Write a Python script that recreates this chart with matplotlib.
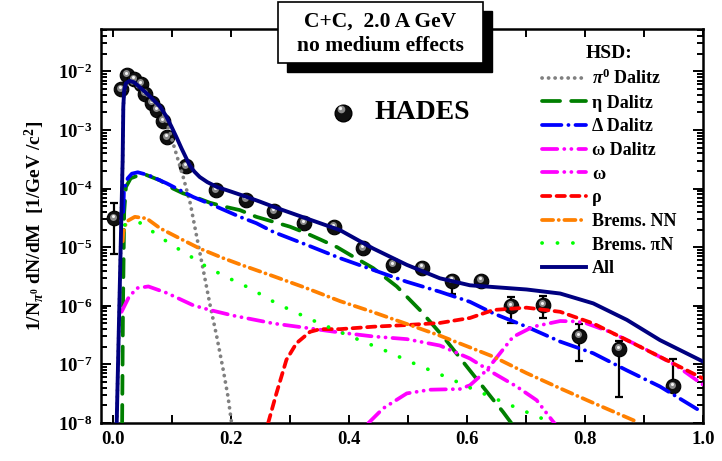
import matplotlib
matplotlib.use('Agg')
import numpy as np
import matplotlib.pyplot as plt
from matplotlib.lines import Line2D
from matplotlib.patches import Rectangle
from matplotlib import transforms, ticker

plt.rcParams['font.family'] = ['Liberation Serif', 'DejaVu Serif']
plt.rcParams['font.weight'] = 'bold'
plt.rcParams['mathtext.fontset'] = 'custom'
plt.rcParams['mathtext.rm'] = 'Liberation Serif:bold'
plt.rcParams['mathtext.bf'] = 'Liberation Serif:bold'
plt.rcParams['mathtext.it'] = 'Liberation Serif:bold:italic'
plt.rcParams['lines.scale_dashes'] = False

# HADES dielectron data: mass [GeV/c^2], yield, error band (low, high)
hades_m = [0.002, 0.013, 0.024, 0.036, 0.047, 0.054, 0.066, 0.074, 0.084, 0.092,
           0.124, 0.174, 0.225, 0.273, 0.324, 0.375, 0.423, 0.474, 0.524, 0.575,
           0.623, 0.674, 0.728, 0.789, 0.858, 0.949]
hades_y = [3.1e-5, 4.95e-3, 8.7e-3, 7.3e-3, 6.1e-3, 4.1e-3, 2.9e-3, 2.2e-3, 1.43e-3, 7.5e-4,
           2.4e-4, 9.3e-5, 6.5e-5, 4.1e-5, 2.6e-5, 2.2e-5, 9.6e-6, 5.0e-6, 4.5e-6, 2.7e-6,
           2.7e-6, 1.0e-6, 1.03e-6, 3.05e-7, 1.83e-7, 4.2e-8]
hades_lo = [7.6e-6, None, None, None, None, None, None, None, None, None,
            None, None, None, None, None, None, None, None, None, 1.6e-6,
            None, 5.1e-7, 6.2e-7, 1.15e-7, 2.8e-8, 3.5e-8]
hades_hi = [5.6e-5, None, None, None, None, None, None, None, None, None,
            None, None, None, None, None, None, None, None, None, 3.2e-6,
            None, 1.43e-6, 1.48e-6, 4.9e-7, 2.5e-7, 1.23e-7]

# HSD contributions
pi0_m = [0.0063, 0.0164, 0.0175, 0.019, 0.022, 0.028, 0.036, 0.051, 0.065, 0.080, 0.090,
         0.102, 0.119, 0.131, 0.142, 0.153, 0.164, 0.176, 0.187, 0.195, 0.201]
pi0_y = [1e-8, 3.0e-4, 2.4e-3, 4.6e-3, 6.0e-3, 6.6e-3, 6.2e-3, 4.6e-3, 3.3e-3, 2.3e-3, 1.5e-3,
         5.9e-4, 1.58e-4, 5.6e-5, 1.5e-5, 4.1e-6, 1.1e-6, 2.95e-7, 7.9e-8, 2.8e-8, 1e-8]

eta_m = [0.0155, 0.017, 0.019, 0.022, 0.030, 0.051, 0.080, 0.102, 0.119, 0.140, 0.164, 0.190,
         0.215, 0.243, 0.270, 0.300, 0.325, 0.351, 0.380, 0.402, 0.441, 0.481, 0.520, 0.560,
         0.600, 0.645, 0.661, 0.675]
eta_y = [1e-8, 1e-6, 4e-5, 1.07e-4, 1.5e-4, 1.8e-4, 1.38e-4, 1.0e-4, 8.3e-5, 7.1e-5, 5.75e-5, 4.9e-5,
         4.3e-5, 3.3e-5, 2.75e-5, 2.24e-5, 1.78e-5, 1.36e-5, 1.0e-5, 7.4e-6, 4.4e-6, 2.14e-6, 8.5e-7, 2.95e-7,
         9.1e-8, 2.45e-8, 1.55e-8, 1e-8]

delta_m = [0.0175, 0.0186, 0.025, 0.032, 0.042, 0.060, 0.091, 0.136, 0.176, 0.215, 0.243, 0.272,
           0.328, 0.385, 0.441, 0.498, 0.554, 0.605, 0.645, 0.701, 0.758, 0.814, 0.871, 0.927, 1.0]
delta_y = [4e-5, 9.5e-5, 1.5e-4, 1.8e-4, 1.9e-4, 1.7e-4, 1.23e-4, 7.2e-5, 4.9e-5, 3.3e-5, 2.57e-5, 1.82e-5,
           1.1e-5, 6.5e-6, 4.1e-6, 2.57e-6, 1.74e-6, 1.17e-6, 7.4e-7, 4.4e-7, 2.45e-7, 1.55e-7, 7.9e-8, 4.2e-8, 1.5e-8]

omdal_m = [0.0145, 0.026, 0.040, 0.060, 0.091, 0.136, 0.164, 0.204, 0.272, 0.328, 0.385, 0.441,
           0.498, 0.554, 0.605, 0.645, 0.684, 0.718, 0.744, 0.752]
omdal_y = [7.9e-7, 1.35e-6, 2.0e-6, 2.14e-6, 1.66e-6, 1.02e-6, 8.5e-7, 6.8e-7, 5.0e-7, 4.2e-7, 3.5e-7, 3.0e-7,
           2.7e-7, 2.1e-7, 1.26e-7, 7.1e-8, 4.2e-8, 2.45e-8, 1.12e-8, 8.9e-9]

omega_m = [0.433, 0.458, 0.498, 0.537, 0.588, 0.605, 0.633, 0.656, 0.678, 0.712, 0.758, 0.786,
           0.803, 0.842, 0.899, 0.955, 1.0]
omega_y = [1e-8, 1.78e-8, 3.2e-8, 3.7e-8, 3.8e-8, 4.4e-8, 7.9e-8, 1.55e-7, 2.95e-7, 4.4e-7, 5.5e-7, 5.4e-7,
           5.0e-7, 3.6e-7, 1.9e-7, 9.5e-8, 4.5e-8]

rho_m = [0.263, 0.277, 0.294, 0.311, 0.334, 0.351, 0.385, 0.441, 0.498, 0.554, 0.605, 0.645,
         0.701, 0.758, 0.814, 0.871, 0.927, 1.0]
rho_y = [1e-8, 3.2e-8, 1.2e-7, 2.3e-7, 3.6e-7, 4.0e-7, 4.0e-7, 4.4e-7, 4.7e-7, 5.1e-7, 6.2e-7, 8.5e-7,
         9.3e-7, 7.9e-7, 5.0e-7, 2.6e-7, 1.35e-7, 5.75e-8]

bnn_m = [0.0165, 0.0175, 0.023, 0.037, 0.057, 0.080, 0.114, 0.147, 0.187, 0.215, 0.272, 0.328,
         0.385, 0.441, 0.498, 0.554, 0.605, 0.645, 0.701, 0.758, 0.814, 0.888]
bnn_y = [1.26e-5, 1.8e-5, 2.75e-5, 3.3e-5, 3.1e-5, 2.1e-5, 1.4e-5, 9.5e-6, 6.5e-6, 5.1e-6, 3.2e-6, 2.0e-6,
         1.2e-6, 7.8e-7, 4.9e-7, 3.1e-7, 1.95e-7, 1.35e-7, 7.1e-8, 3.9e-8, 2.2e-8, 1.05e-8]

bpin_m = [0.020, 0.046, 0.071, 0.099, 0.128, 0.147, 0.175, 0.203, 0.232, 0.277, 0.337, 0.396,
          0.458, 0.512, 0.571, 0.600, 0.656, 0.712, 0.744]
bpin_y = [2.4e-5, 2.6e-5, 1.74e-5, 1.1e-5, 7.4e-6, 5.4e-6, 3.8e-6, 2.75e-6, 2.0e-6, 1.1e-6, 5.75e-7, 3.2e-7,
          1.78e-7, 1.02e-7, 5.75e-8, 4.2e-8, 2.4e-8, 1.38e-8, 1.02e-8]

all_m = [0.0063, 0.0164, 0.0175, 0.019, 0.022, 0.028, 0.036, 0.051, 0.065, 0.080, 0.090, 0.099,
         0.108, 0.116, 0.123, 0.130, 0.138, 0.147, 0.160, 0.176, 0.200, 0.227, 0.249, 0.272,
         0.328, 0.385, 0.441, 0.498, 0.554, 0.605, 0.645, 0.701, 0.758, 0.814, 0.871, 0.927, 1.0]
all_y = [1e-8, 3.1e-4, 2.5e-3, 4.8e-3, 6.3e-3, 6.9e-3, 6.5e-3, 4.8e-3, 3.55e-3, 2.5e-3, 1.74e-3, 1.15e-3,
         7.4e-4, 4.9e-4, 3.5e-4, 2.5e-4, 1.95e-4, 1.58e-4, 1.29e-4, 1.07e-4, 8.9e-5, 7.2e-5, 6.0e-5, 4.9e-5,
         3.1e-5, 1.95e-5, 9.5e-6, 5.0e-6, 2.95e-6, 2.24e-6, 2.09e-6, 1.9e-6, 1.62e-6, 1.1e-6, 5.75e-7, 2.6e-7, 1.12e-7]

x_ticks = [0.0, 0.2, 0.4, 0.6, 0.8, 1.0]
y_ticks = [1e-8, 1e-7, 1e-6, 1e-5, 1e-4, 1e-3, 1e-2]

curves = [
    (pi0_m, pi0_y, '#808080', (0, (0.1, 4.6)), r'$\pi^{0}$ Dalitz'),
    (eta_m, eta_y, '#007f00', (0, (13, 8)), 'η Dalitz'),
    (delta_m, delta_y, '#0000ff', (0, (14, 5, 0.1, 5)), 'Δ Dalitz'),
    (omdal_m, omdal_y, '#ff00ff', (0, (11, 5, 0.1, 5, 0.1, 5)), 'ω Dalitz'),
    (omega_m, omega_y, '#ff00ff', (0, (11, 5, 0.1, 5, 0.1, 5)), 'ω'),
    (rho_m, rho_y, '#ff0000', (0, (6, 4.5)), 'ρ'),
    (bnn_m, bnn_y, '#ff8000', (0, (8, 4, 0.1, 4)), 'Brems. NN'),
    (bpin_m, bpin_y, '#00ff00', (0, (0.1, 11)), 'Brems. πN'),
]

fig = plt.figure(figsize=(7.22, 4.61), dpi=100)
ax = fig.add_axes([101 / 722, 38 / 461, 602 / 722, 394 / 461])

# data points: dark spheres with a small highlight
ym = np.array(hades_y)
lo = np.array([v if v is not None else y for v, y in zip(hades_lo, hades_y)])
hi = np.array([v if v is not None else y for v, y in zip(hades_hi, hades_y)])
ax.errorbar(hades_m, ym, yerr=[ym - lo, hi - ym], fmt='none', ecolor='black',
            elinewidth=1.6, capsize=3, capthick=1.6, zorder=2)
ax.plot(hades_m, ym, 'o', ms=10.5, mfc='#101010', mec='#000000', mew=0.8, zorder=2)
hl = transforms.offset_copy(ax.transData, fig=fig, x=-0.6, y=1.2, units='points')
ax.plot(hades_m, ym, 'o', ms=5, mfc='#8a8a8a', mec='none', transform=hl, zorder=2)
hl2 = transforms.offset_copy(ax.transData, fig=fig, x=-0.6, y=1.6, units='points')
ax.plot(hades_m, ym, 'o', ms=2.2, mfc='#f4f4f4', mec='none', transform=hl2, zorder=2)

handles = []
for m, y, c, ls, lab in curves:
    ax.plot(m, y, color=c, ls=ls, lw=2.7, dash_capstyle='round',
            solid_capstyle='round', zorder=3)
    handles.append(Line2D([], [], color=c, ls=ls, lw=2.7, dash_capstyle='round', label=lab))
ax.plot(all_m, all_y, color='#000080', lw=2.8, zorder=4)
handles.append(Line2D([], [], color='#000080', lw=2.8, label='All'))

ax.set_yscale('log')
ax.set_xlim(-0.0203, 1.0)
ax.set_ylim(1e-8, 5.3e-2)

ax.set_xticks(x_ticks)
ax.xaxis.set_minor_locator(ticker.MultipleLocator(0.1))
ax.xaxis.set_major_formatter(ticker.FormatStrFormatter('%.1f'))
ax.set_yticks(y_ticks)
ax.yaxis.set_minor_locator(ticker.LogLocator(base=10, subs=np.arange(2, 10), numticks=20))
ax.yaxis.set_minor_formatter(ticker.NullFormatter())
ax.yaxis.set_major_formatter(ticker.FuncFormatter(
    lambda v, p: r'$\mathbf{10^{%d}}$' % int(round(np.log10(v)))))
ax.tick_params(which='both', direction='in', top=True, right=True, width=1.4,
               labelsize=13.5, pad=6)
ax.tick_params(axis='x', which='both', length=6)
ax.tick_params(axis='y', which='major', length=7)
ax.tick_params(axis='y', which='minor', length=4)
for lab in ax.get_xticklabels() + ax.get_yticklabels():
    lab.set_fontweight('bold')
for sp in ax.spines.values():
    sp.set_linewidth(1.8)

ax.set_ylabel(r'1/N$_{\pi^{0}}$ dN/dM  [1/GeV /c$^{2}$]', fontsize=14,
              fontweight='bold', labelpad=8)

# HADES marker label
ax.plot([0.402], [0.787], 'o', ms=12, mfc='#101010', mec='black', transform=ax.transAxes)
ax.plot([0.398], [0.797], 'o', ms=5.5, mfc='#8a8a8a', mec='none', transform=ax.transAxes)
ax.plot([0.397], [0.800], 'o', ms=2.4, mfc='#f4f4f4', mec='none', transform=ax.transAxes)
ax.text(0.455, 0.787, 'HADES', transform=ax.transAxes, fontsize=20,
        fontweight='bold', va='center', ha='left')

leg = ax.legend(handles=handles, title='HSD:', loc='upper left',
                bbox_to_anchor=(0.732, 0.96), frameon=False, fontsize=13,
                title_fontproperties={'size': 14, 'weight': 'bold'},
                handlelength=2.45, handletextpad=0.35, labelspacing=0.37,
                borderpad=0.0, borderaxespad=0.0)
leg.set_zorder(6)

# system label with drop shadow
fig.patches.append(Rectangle((287 / 722, 1 - 72 / 461), 205 / 722, 61 / 461,
                             transform=fig.transFigure, facecolor='black',
                             edgecolor='black', zorder=10))
fig.patches.append(Rectangle((278 / 722, 1 - 63 / 461), 205 / 722, 61 / 461,
                             transform=fig.transFigure, facecolor='white',
                             edgecolor='black', lw=1.2, zorder=11))
fig.text(380 / 722, 1 - 22 / 461, 'C+C,  2.0 A GeV', ha='center', va='center',
         fontsize=15.5, fontweight='bold', zorder=12)
fig.text(380 / 722, 1 - 46 / 461, 'no medium effects', ha='center', va='center',
         fontsize=15.5, fontweight='bold', zorder=12)

fig.savefig('out.png', dpi=100)
